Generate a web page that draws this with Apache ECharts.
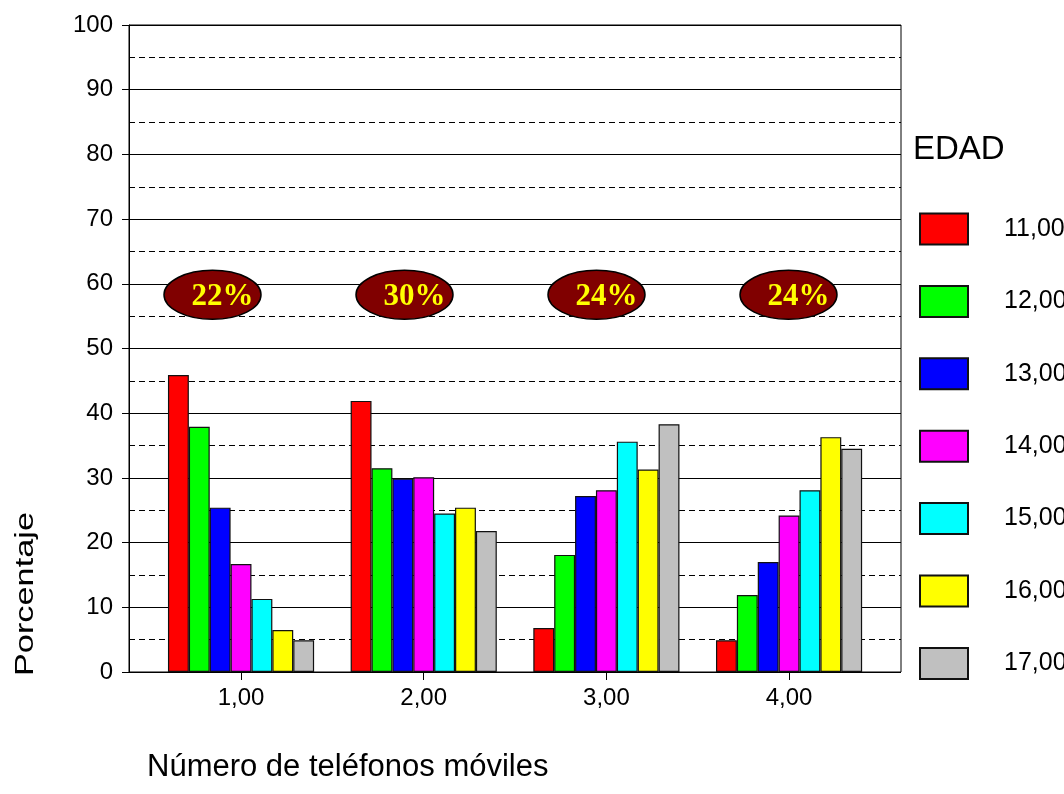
<!DOCTYPE html>
<html lang="es">
<head>
  <meta charset="UTF-8">
  <title>Número de teléfonos móviles por edad</title>
  <style>
    html, body {
      margin: 0;
      padding: 0;
      background: #fff;
    }
    #chart {
      width: 1064px;
      height: 794px;
    }
  </style>
</head>
<body>
<div id="chart"></div>

<script src="https://cdn.jsdelivr.net/npm/echarts@6/dist/echarts.min.js"></script>
<script>
  // categorías del eje X
  const categories = ['1,00', '2,00', '3,00', '4,00'];
  // grupos de edad (leyenda)
  const ages = ['11,00', '12,00', '13,00', '14,00', '15,00', '16,00', '17,00'];
  const ageColors = ['#ff0000', '#00ff00', '#0000ff', '#ff00ff', '#00ffff', '#ffff00', '#c0c0c0'];
  // porcentaje por edad, un valor por categoría
  const edad11 = [45.9, 41.9, 6.8, 4.9];
  const edad12 = [37.9, 31.5, 18.1, 11.9];
  const edad13 = [25.4, 29.9, 27.2, 17.0];
  const edad14 = [16.7, 30.1, 28.1, 24.2];
  const edad15 = [11.3, 24.5, 35.6, 28.1];
  const edad16 = [6.5, 25.4, 31.3, 36.3];
  const edad17 = [4.9, 21.8, 38.3, 34.5];
  const seriesValues = [edad11, edad12, edad13, edad14, edad15, edad16, edad17];
  // etiquetas de las elipses
  const totalLabels = ['22%', '30%', '24%', '24%'];
  const totalLabelY = 58.3;

  const sans = 'Arial, "Liberation Sans", sans-serif';
  const serif = '"Times New Roman", "Liberation Serif", serif';

  const dom = document.getElementById('chart');
  const chart = echarts.init(dom);

  const frame = {left: 129, right: 163, top: 25, bottom: 122};

  const option = {
    animation: false,
    backgroundColor: '#fff',
    grid: [
      {
        left: frame.left, right: frame.right, top: frame.top, bottom: frame.bottom,
        show: true, borderColor: '#000', borderWidth: 1, backgroundColor: 'transparent'
      },
      {
        left: 149.7, right: 183.6, top: frame.top, bottom: frame.bottom, show: false
      }
    ],
    xAxis: [
      {gridIndex: 0, type: 'value', min: 0, max: 1, show: false},
      {
        gridIndex: 1,
        type: 'category',
        data: categories,
        axisLine: {show: false},
        axisTick: {show: true, alignWithLabel: true, length: 8, lineStyle: {color: '#000', width: 1}},
        axisLabel: {color: '#000', fontSize: 24, fontFamily: sans, margin: 14},
        splitLine: {show: false}
      }
    ],
    yAxis: [
      {
        gridIndex: 0,
        type: 'value',
        min: 0, max: 100, interval: 10,
        axisLine: {show: true, lineStyle: {color: '#000', width: 1}},
        axisTick: {show: true, length: 7, lineStyle: {color: '#000', width: 1}},
        axisLabel: {color: '#000', fontSize: 24, fontFamily: sans, margin: 16},
        splitLine: {show: true, lineStyle: {color: '#000', width: 1}},
        minorTick: {show: false, splitNumber: 2},
        minorSplitLine: {show: true, lineStyle: {color: '#000', width: 1, type: [6, 4]}}
      },
      {gridIndex: 1, type: 'value', min: 0, max: 100, show: false}
    ],
    legend: {
      orient: 'vertical',
      left: 919,
      top: 212.5,
      padding: 0,
      itemWidth: 48,
      itemHeight: 31,
      itemGap: 39.4,
      icon: 'rect',
      selectedMode: false,
      textStyle: {color: '#000', fontSize: 25, fontFamily: sans, padding: [0, 0, 0, 31]},
      data: ages
    },
    series: ages.map((age, i) => ({
      name: age,
      type: 'bar',
      xAxisIndex: 1,
      yAxisIndex: 1,
      barGap: '0%',
      barCategoryGap: '20%',
      itemStyle: {color: ageColors[i], borderColor: '#111', borderWidth: 1.2},
      data: seriesValues[i]
    }))
  };
  chart.setOption(option);

  // elipses con porcentajes, texto de la leyenda y títulos de los ejes
  const ellipseY = chart.convertToPixel({yAxisIndex: 0}, totalLabelY);
  const ellipseX0 = 212.5, ellipseStep = 192;
  const graphic = [];
  totalLabels.forEach((txt, i) => {
    const cx = ellipseX0 + i * ellipseStep;
    graphic.push({
      type: 'ellipse',
      shape: {cx: cx, cy: ellipseY, rx: 48.5, ry: 24.5},
      style: {fill: '#800000', stroke: '#000', lineWidth: 1.5},
      z: 10
    });
    graphic.push({
      type: 'text',
      x: cx + 10,
      y: ellipseY + 2,
      style: {
        text: txt, fill: '#ffff00', font: 'bold 31px ' + serif,
        textAlign: 'center', textVerticalAlign: 'middle'
      },
      z: 11
    });
  });
  graphic.push({
    type: 'text',
    x: 913, y: 150,
    style: {text: 'EDAD', fill: '#000', font: '33px ' + sans, textAlign: 'left', textVerticalAlign: 'middle'}
  });
  graphic.push({
    type: 'text',
    x: 147, y: 767,
    style: {
      text: 'Número de teléfonos móviles', fill: '#000', font: '31px ' + sans,
      textAlign: 'left', textVerticalAlign: 'middle'
    }
  });
  graphic.push({
    type: 'text',
    x: 26, y: 594,
    rotation: Math.PI / 2,
    scaleX: 1.32,
    style: {
      text: 'Porcentaje', fill: '#000', font: '26px ' + sans,
      textAlign: 'center', textVerticalAlign: 'middle'
    }
  });
  chart.setOption({graphic: graphic});
</script>
</body>
</html>
